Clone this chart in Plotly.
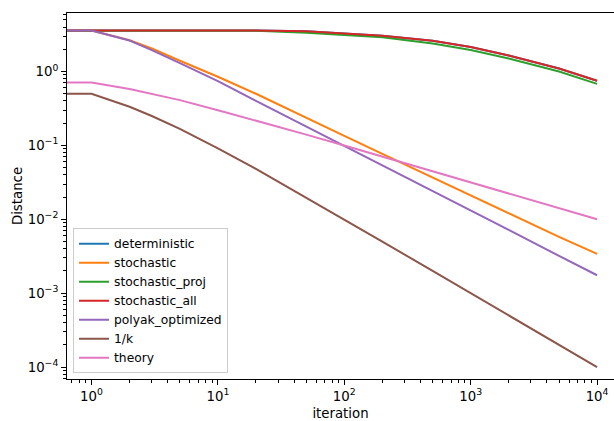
import plotly.graph_objects as go

# ---- data ----
iterations = [0, 1, 2, 3, 5, 10, 20, 50, 100, 200, 500, 1000, 2000, 5000, 10000]

deterministic     = [3.6, 3.6, 3.6, 3.6, 3.6, 3.6, 3.58, 3.5, 3.3, 3.05, 2.6, 2.15, 1.65, 1.1, 0.75]
stochastic        = [3.6, 3.6, 2.65, 2.05, 1.4, 0.85, 0.5, 0.24, 0.135, 0.077, 0.037, 0.021, 0.0119, 0.0058, 0.0034]
stochastic_proj   = [3.6, 3.6, 3.6, 3.6, 3.6, 3.6, 3.55, 3.35, 3.15, 2.9, 2.4, 1.95, 1.5, 1.0, 0.68]
stochastic_all    = [3.6, 3.6, 3.6, 3.6, 3.6, 3.6, 3.58, 3.5, 3.3, 3.05, 2.6, 2.15, 1.65, 1.1, 0.75]
polyak_optimized  = [3.6, 3.6, 2.63, 1.95, 1.3, 0.74, 0.40, 0.18, 0.1, 0.0544, 0.0243, 0.0133, 0.0072, 0.0032, 0.00175]
one_over_k        = [0.5, 0.5, 0.333, 0.25, 0.167, 0.091, 0.048, 0.0196, 0.0099, 0.005, 0.002, 0.001, 0.0005, 0.0002, 0.0001]
theory            = [0.71, 0.71, 0.58, 0.5, 0.41, 0.30, 0.218, 0.14, 0.0995, 0.0705, 0.0447, 0.0316, 0.0224, 0.0141, 0.01]

series_names  = ["deterministic", "stochastic", "stochastic_proj", "stochastic_all",
                 "polyak_optimized", "1/k", "theory"]
series_values = [deterministic, stochastic, stochastic_proj, stochastic_all,
                 polyak_optimized, one_over_k, theory]
series_colors = ["#1f77b4", "#ff7f0e", "#2ca02c", "#d62728", "#9467bd", "#8c564b", "#e377c2"]

x_tickvals = [1, 10, 100, 1000, 10000]
x_ticktext = ["10<sup>0</sup>", "10<sup>1</sup>", "10<sup>2</sup>", "10<sup>3</sup>", "10<sup>4</sup>"]
y_tickvals = [1e-4, 1e-3, 1e-2, 1e-1, 1]
y_ticktext = ["10<sup>\u22124</sup>", "10<sup>\u22123</sup>", "10<sup>\u22122</sup>",
              "10<sup>\u22121</sup>", "10<sup>0</sup>"]

# like matplotlib's log clipping, iteration 0 is pushed far off the left edge
x_plot = [k if k > 0 else 1e-3 for k in iterations]

x_minor = [m * 10 ** e for e in range(-1, 5) for m in range(2, 10)]
y_minor = [m * 10 ** e for e in range(-5, 1) for m in range(2, 10)]

fig = go.Figure()
for name, vals, col in zip(series_names, series_values, series_colors):
    fig.add_trace(go.Scatter(x=x_plot, y=vals, mode="lines", name=name,
                             line=dict(color=col, width=2)))

font = dict(family="DejaVu Sans", size=13.3, color="black")
legend_font = dict(family="DejaVu Sans", size=12.3, color="black")
fig.update_layout(
    width=614, height=421,
    margin=dict(l=67, r=0, t=13, b=42),
    paper_bgcolor="white", plot_bgcolor="white",
    font=font,
    showlegend=True,
    legend=dict(x=0.011, y=0.016, xanchor="left", yanchor="bottom",
                bgcolor="rgba(255,255,255,0.8)", bordercolor="#cccccc", borderwidth=1,
                font=legend_font, itemwidth=30, tracegroupgap=0),
    xaxis=dict(type="log", range=[-0.194, 4.134], showgrid=False, zeroline=False,
               showline=True, linecolor="black", linewidth=1, mirror=True,
               ticks="outside", ticklen=5, tickwidth=1, tickcolor="black",
               tickvals=x_tickvals, ticktext=x_ticktext,
               minor=dict(tickvals=x_minor, ticks="outside", ticklen=3, tickwidth=1,
                          tickcolor="black", showgrid=False),
               title=dict(text="iteration", font=font, standoff=6)),
    yaxis=dict(type="log", range=[-4.161, 0.792], showgrid=False, zeroline=False,
               showline=True, linecolor="black", linewidth=1, mirror=False,
               ticks="outside", ticklen=5, tickwidth=1, tickcolor="black",
               tickvals=y_tickvals, ticktext=y_ticktext,
               minor=dict(tickvals=y_minor, ticks="outside", ticklen=3, tickwidth=1,
                          tickcolor="black", showgrid=False),
               title=dict(text="Distance", font=font, standoff=2)),
)

fig.write_html("out.html")
